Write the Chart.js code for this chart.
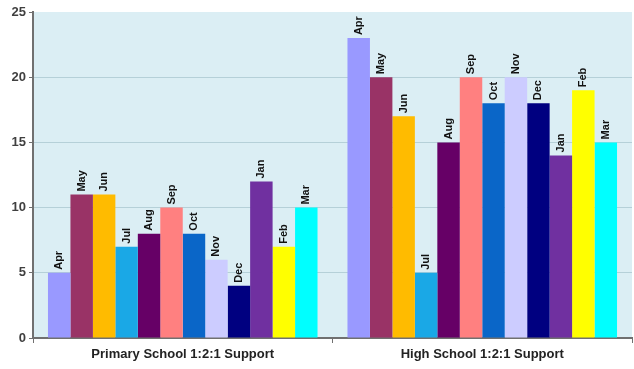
<!DOCTYPE html>
<html>
<head>
<meta charset="utf-8">
<script src="https://cdn.jsdelivr.net/npm/chart.js@4"></script>
<style>
  html, body { margin: 0; padding: 0; background: #fff; }
  #wrap { width: 634px; height: 369px; }
</style>
</head>
<body>
<div id="wrap"><canvas id="supportChart"></canvas></div>
<script>
const categories = ["Primary School 1:2:1 Support", "High School 1:2:1 Support"];
const months = ["Apr", "May", "Jun", "Jul", "Aug", "Sep", "Oct", "Nov", "Dec", "Jan", "Feb", "Mar"];
const primaryValues = [5, 11, 11, 7, 8, 10, 8, 6, 4, 12, 7, 10];
const highValues = [23, 20, 17, 5, 15, 20, 18, 20, 18, 14, 19, 15];
const monthColors = ["#9999ff", "#993366", "#ffbb00", "#1aa8e6", "#660066", "#ff8080",
                     "#0a66c8", "#ccccff", "#000080", "#7030a0", "#ffff00", "#00ffff"];
const yTicks = [0, 5, 10, 15, 20, 25];

const datasets = months.map((m, i) => ({
  label: m,
  data: [primaryValues[i], highValues[i]],
  backgroundColor: monthColors[i],
  borderWidth: 0,
  categoryPercentage: 0.9,
  barPercentage: 1
}));

// light blue plot background
const plotBg = {
  id: "plotBg",
  beforeDraw(chart) {
    const { ctx, chartArea: a } = chart;
    ctx.save();
    ctx.fillStyle = "#dbeef4";
    ctx.fillRect(a.left, a.top, a.right - a.left, a.bottom - a.top);
    ctx.restore();
  }
};

// month name written upright above each bar
const barNames = {
  id: "barNames",
  afterDatasetsDraw(chart) {
    const ctx = chart.ctx;
    ctx.save();
    ctx.font = "bold 11px Arial, 'Liberation Sans', sans-serif";
    ctx.fillStyle = "#111";
    ctx.textAlign = "left";
    ctx.textBaseline = "middle";
    chart.data.datasets.forEach((ds, i) => {
      chart.getDatasetMeta(i).data.forEach(bar => {
        ctx.save();
        ctx.translate(bar.x, bar.y - 3);
        ctx.rotate(-Math.PI / 2);
        ctx.fillText(ds.label, 0, 0);
        ctx.restore();
      });
    });
    ctx.restore();
  }
};

new Chart(document.getElementById("supportChart"), {
  type: "bar",
  data: { labels: categories, datasets },
  plugins: [plotBg, barNames],
  options: {
    responsive: true,
    maintainAspectRatio: false,
    animation: false,
    layout: { padding: { top: 12, right: 2, left: 0, bottom: 0 } },
    plugins: { legend: { display: false }, tooltip: { enabled: false } },
    scales: {
      x: {
        offset: true,
        grid: { display: true, drawOnChartArea: false, offset: true, tickLength: 5, color: "#707070" },
        border: { color: "#707070", width: 2 },
        ticks: {
          color: "#222",
          font: { family: "Arial, 'Liberation Sans', sans-serif", size: 13, weight: "bold" },
          padding: 4
        },
        afterFit(s) { s.height = 31; }
      },
      y: {
        min: 0,
        max: 25,
        afterBuildTicks(s) { s.ticks = yTicks.map(v => ({ value: v })); },
        grid: {
          color: c => (c.tick.value === 0 || c.tick.value === 25) ? "rgba(0,0,0,0)" : "#b5d0d8",
          tickColor: "#707070",
          tickLength: 4
        },
        border: { color: "#707070", width: 2 },
        ticks: {
          color: "#404040",
          font: { family: "Arial, 'Liberation Sans', sans-serif", size: 13, weight: "bold" },
          padding: 3
        },
        afterFit(s) { s.width = 33; }
      }
    }
  }
});
</script>
</body>
</html>
